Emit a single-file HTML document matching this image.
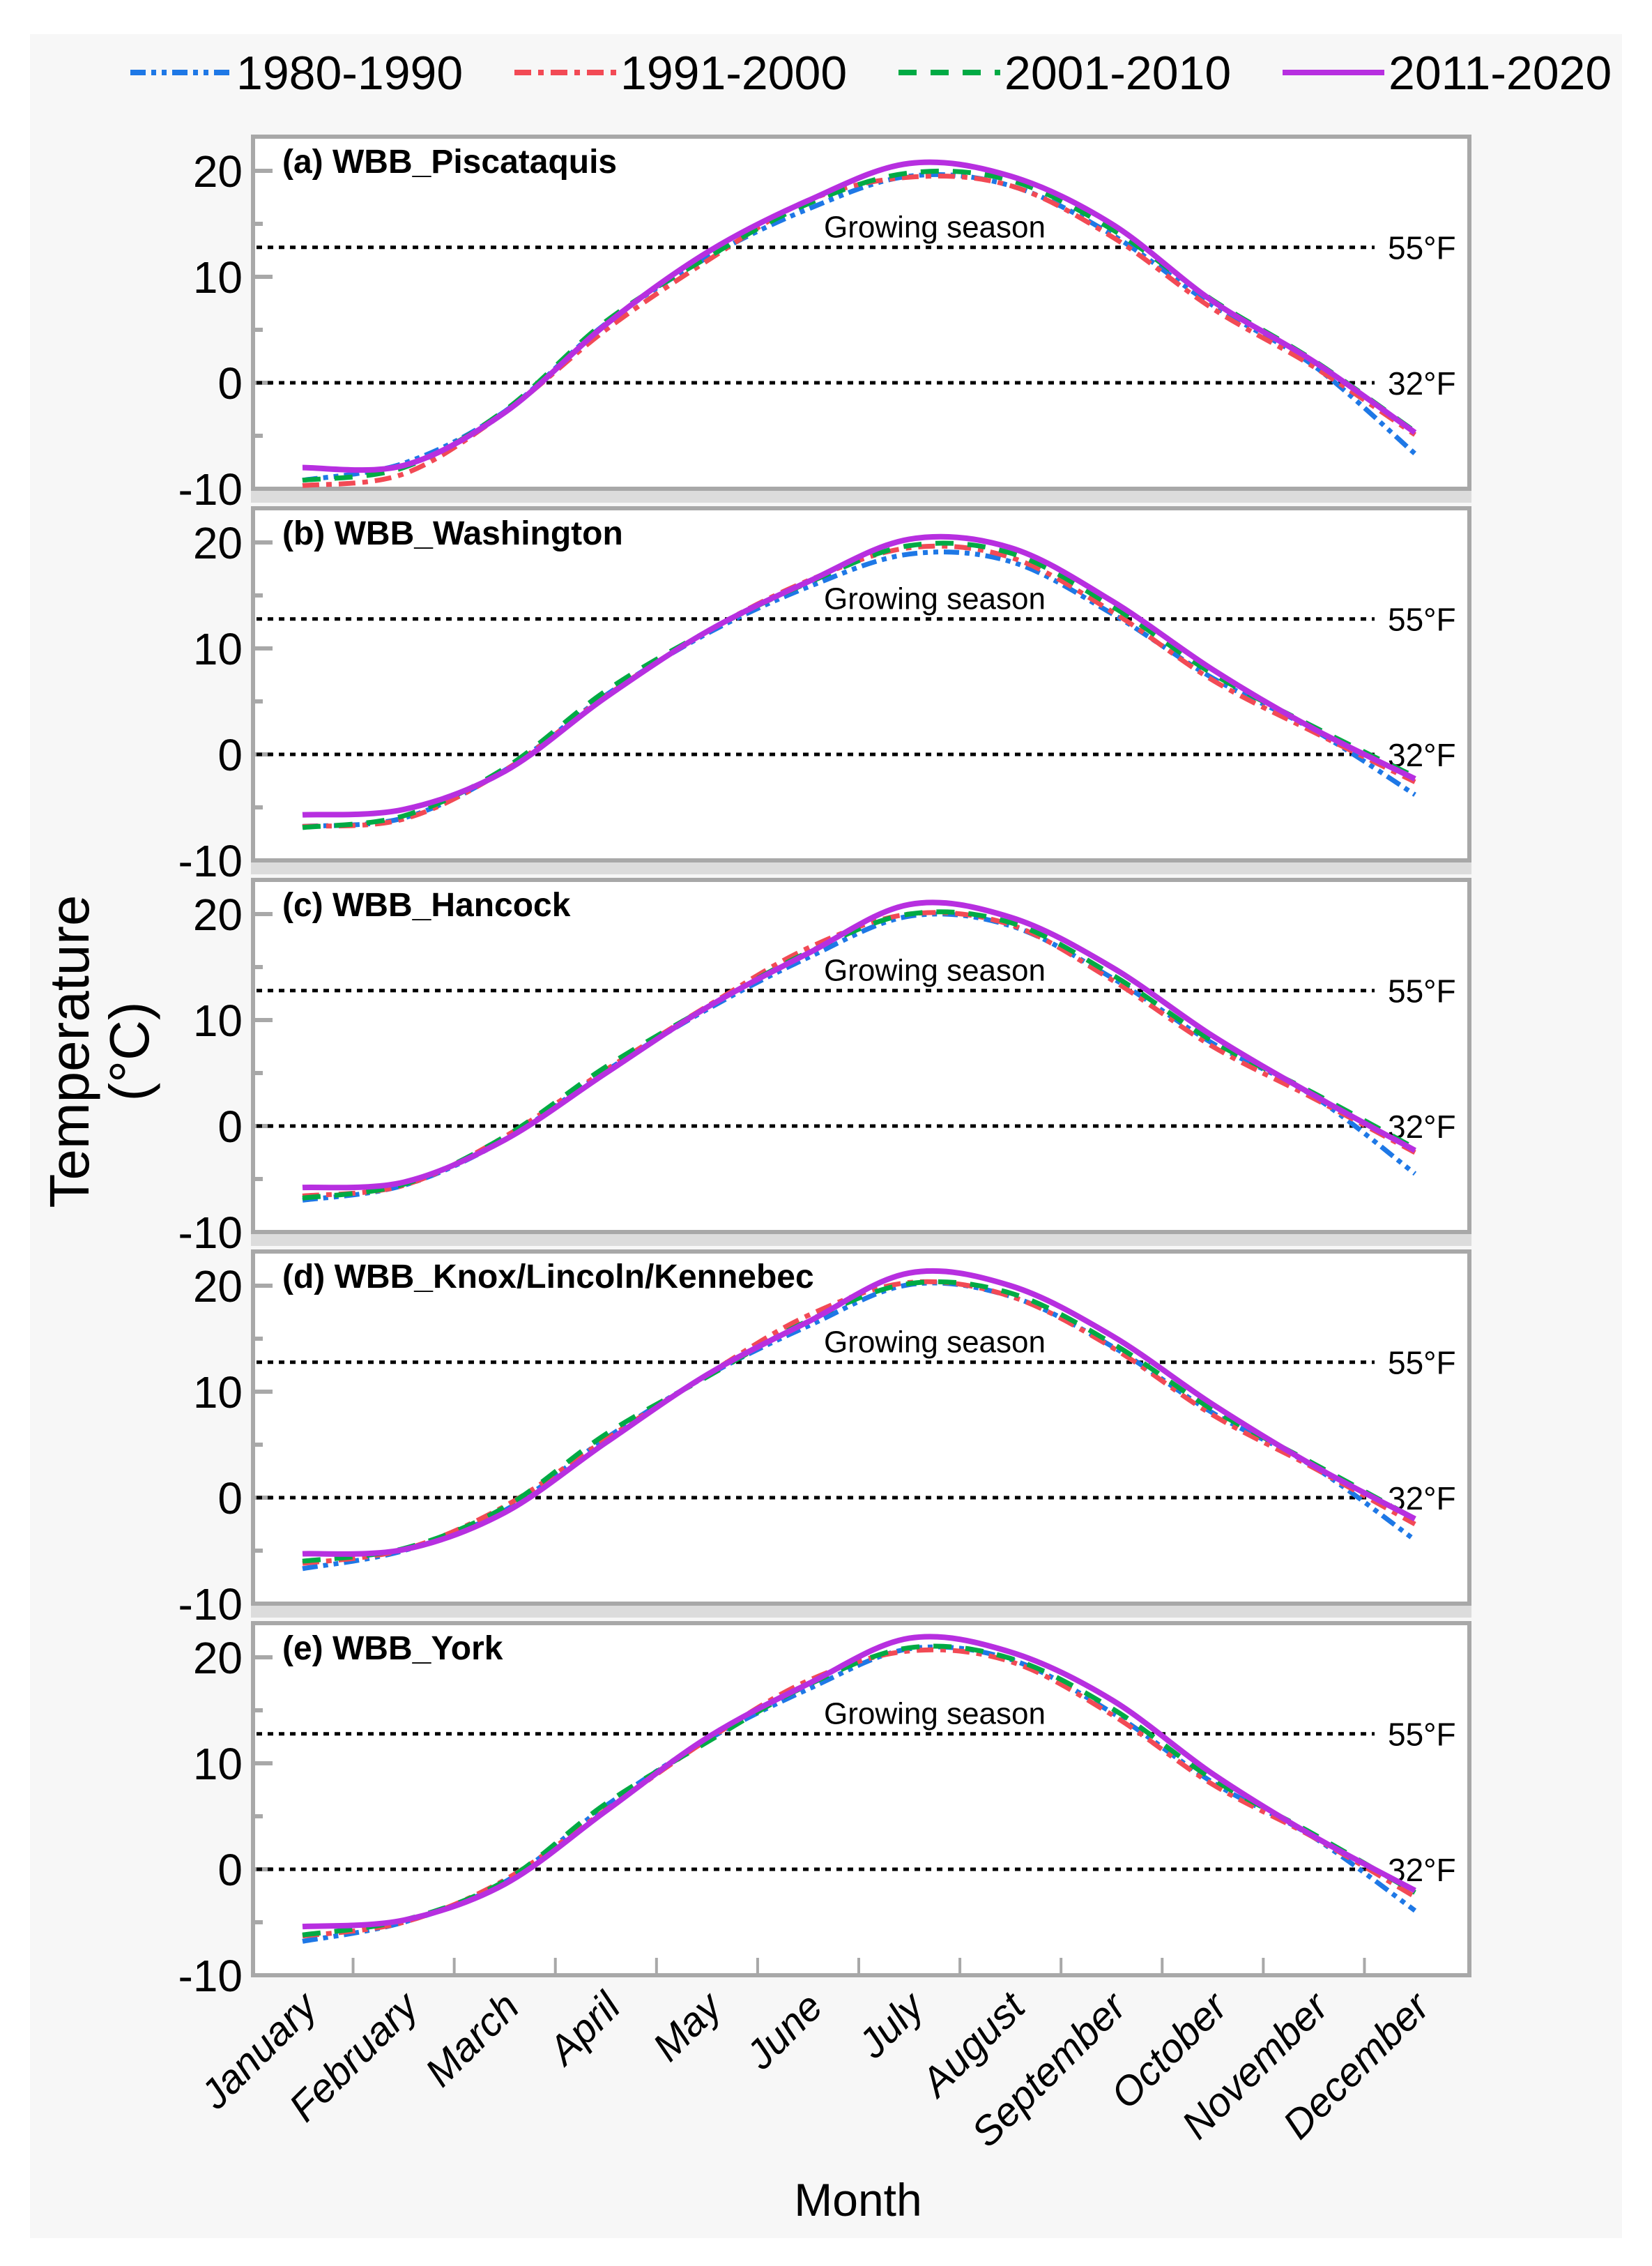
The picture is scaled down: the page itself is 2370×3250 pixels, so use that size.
<!DOCTYPE html>
<html><head><meta charset="utf-8"><style>
html,body{margin:0;padding:0;background:#fff;}
svg{display:block;font-family:"Liberation Sans",Arial,sans-serif;}
</style></head><body>
<svg id="chart" width="2370" height="3250" viewBox="0 0 2370 3250" xmlns="http://www.w3.org/2000/svg">
<rect x="43" y="49" width="2284" height="3161" fill="#f7f7f7"/>
<g id="legend"></g>
<g id="panels"></g>
<g id="xlabels"></g>
<text x="135" y="1508" font-size="80" text-anchor="middle" transform="rotate(-90 135 1508)"><tspan x="135" dy="-8">Temperature</tspan><tspan x="135" dy="86">(°C)</tspan></text>
<text x="1231" y="3178" font-size="66" text-anchor="middle">Month</text>
</svg>
<script>
const months = ["January","February","March","April","May","June","July","August","September","October","November","December"];
const seriesNames = ["1980-1990","1991-2000","2001-2010","2011-2020"];
const panelTitles = ["(a) WBB_Piscataquis","(b) WBB_Washington","(c) WBB_Hancock","(d) WBB_Knox/Lincoln/Kennebec","(e) WBB_York"];
const yTicks = [-10,0,10,20];
const yMinorTicks = [-5,5,15];
const refLines = [12.78,0];
const refLabels = ["55°F","32°F"];
// panel a
const a1980 = [-9.2,-7.6,-2.7,5.6,11.8,16.4,19.5,18.6,14.0,7.3,1.6,-6.7];
const a1991 = [-9.7,-8.6,-2.8,5.0,11.5,17.2,19.4,18.6,13.8,7.0,1.5,-4.9];
const a2001 = [-9.2,-8.0,-2.6,5.8,11.8,16.9,19.8,19.1,14.5,7.8,2.1,-4.6];
const a2011 = [-8.0,-7.8,-2.8,5.5,12.3,17.2,20.7,19.5,15.0,7.7,2.0,-4.7];
// panel b
const b1980 = [-6.8,-6.0,-1.5,5.6,11.4,15.8,18.9,18.2,13.3,7.2,2.3,-3.8];
const b1991 = [-6.8,-6.1,-1.5,5.5,11.6,16.4,19.5,18.6,13.5,7.0,2.1,-2.6];
const b2001 = [-6.9,-5.8,-1.3,6.0,11.6,16.2,19.7,19.0,14.0,7.6,2.6,-2.1];
const b2011 = [-5.7,-5.2,-1.6,5.4,11.6,16.3,20.3,19.5,14.5,8.0,2.4,-2.3];
// panel c
const c1980 = [-7.0,-5.6,-1.3,5.2,11.0,15.9,19.8,18.9,14.0,7.8,2.8,-4.5];
const c1991 = [-6.6,-5.6,-1.0,5.3,11.3,16.8,20.0,19.0,13.8,7.5,2.6,-2.5];
const c2001 = [-6.8,-5.5,-1.0,5.6,11.2,16.4,20.0,19.2,14.3,8.0,3.1,-2.1];
const c2011 = [-5.8,-5.3,-1.3,5.0,11.2,16.3,20.9,19.7,15.0,8.5,2.9,-2.3];
// panel d
const d1980 = [-6.7,-5.0,-1.2,5.6,11.5,16.2,20.1,19.0,14.3,8.0,2.9,-4.0];
const d1991 = [-6.2,-4.9,-0.8,5.5,11.6,17.2,20.3,19.0,14.2,7.8,2.8,-2.5];
const d2001 = [-6.0,-4.8,-0.9,6.0,11.4,16.7,20.2,19.3,14.6,8.3,3.2,-2.0];
const d2011 = [-5.3,-4.9,-1.4,5.2,11.6,16.6,21.2,20.0,15.3,8.8,3.0,-2.0];
// panel e
const e1980 = [-6.8,-5.0,-1.2,6.0,12.2,17.0,20.8,19.8,14.8,8.2,3.0,-3.9];
const e1991 = [-6.3,-5.0,-1.0,5.6,12.2,17.8,20.6,19.6,14.6,8.0,3.0,-2.6];
const e2001 = [-6.2,-4.8,-1.1,6.2,12.0,17.4,20.9,19.9,15.2,8.5,3.3,-2.2];
const e2011 = [-5.4,-4.8,-1.4,5.5,12.4,17.5,21.8,20.5,16.0,9.0,3.1,-2.0];
const panelData = [[a1980,a1991,a2001,a2011],[b1980,b1991,b2001,b2011],[c1980,c1991,c2001,c2011],[d1980,d1991,d2001,d2011],[e1980,e1991,e2001,e2011]];

const NS="http://www.w3.org/2000/svg";
function mk(tag,attrs,parent){const e=document.createElementNS(NS,tag);for(const k in attrs)e.setAttribute(k,attrs[k]);parent.appendChild(e);return e;}
const colors=["#1e78e6","#f24a55","#00aa44","#b72fe0"];
const dashes=["22,8,7,8,7,8","24,10,8,10","26,20","none"];
const X0=434, X1=2030, frameL=363, frameR=2108;
function xs(i){return X0+(X1-X0)*i/(months.length-1);}
const panelTops=[196,729,1262,1795,2328];
const panelH=505;
function makeY(top){const y20=top+49, ym10=top+panelH;return v=>ym10-(v+10)*(ym10-y20)/30;}
function pathD(pts){let d="M"+pts[0][0]+","+pts[0][1];for(let i=0;i<pts.length-1;i++){const p0=pts[i-1]||pts[i],p1=pts[i],p2=pts[i+1],p3=pts[i+2]||p2;const c1x=p1[0]+(p2[0]-p0[0])/6,c1y=p1[1]+(p2[1]-p0[1])/6,c2x=p2[0]-(p3[0]-p1[0])/6,c2y=p2[1]-(p3[1]-p1[1])/6;d+=" C"+c1x.toFixed(1)+","+c1y.toFixed(1)+" "+c2x.toFixed(1)+","+c2y.toFixed(1)+" "+p2[0].toFixed(1)+","+p2[1].toFixed(1);}return d;}

const lg=document.getElementById("legend");
const legX=[187,738,1289,1840];
seriesNames.forEach((n,i)=>{
 const ln=mk("line",{x1:legX[i],y1:104,x2:legX[i]+146,y2:104,stroke:colors[i],"stroke-width":8,"stroke-dasharray":dashes[i]},lg);
 
 
 const t=mk("text",{x:legX[i]+152,y:128,"font-size":68},lg);t.textContent=n;
 
 
});

const pg=document.getElementById("panels");
panelData.forEach((ser,p)=>{
 const top=panelTops[p], y=makeY(top);
 const g=mk("g",{},pg);
 
 
 if(p<4){const band=mk("rect",{x:frameL-3,y:top+panelH+3,width:frameR-frameL+6,height:17,fill:"#dcdcdc"},g);
  
  }
 const fr=mk("rect",{x:frameL,y:top,width:frameR-frameL,height:panelH,fill:"#fff",stroke:"#a8a8a8","stroke-width":6},g);
 
 
 yTicks.forEach(v=>{
  const tk=mk("line",{x1:frameL,x2:frameL+28,y1:y(v),y2:y(v),stroke:"#a8a8a8","stroke-width":6},g);
  
  
  const t=mk("text",{x:348,y:y(v)+23,"font-size":64,"text-anchor":"end"},g);t.textContent=v;
  
  
 });
 yMinorTicks.forEach(v=>{
  const tk=mk("line",{x1:frameL,x2:frameL+14,y1:y(v),y2:y(v),stroke:"#a8a8a8","stroke-width":6},g);
  
  
 });
 if(p===4){for(let i=0;i<months.length-1;i++){const xx=(xs(i)+xs(i+1))/2;
  const tk=mk("line",{x1:xx,x2:xx,y1:top+panelH,y2:top+panelH-25,stroke:"#a8a8a8","stroke-width":4},g);
  
  }}
 refLines.forEach((v,i)=>{
  const l=mk("line",{x1:frameL+5,x2:1972,y1:y(v),y2:y(v),stroke:"#000","stroke-width":5,"stroke-dasharray":"8,8"},g);
  
  
  const t=mk("text",{x:1991,y:y(v)+17,"font-size":46},g);t.textContent=refLabels[i];
  
  
 });
 const gs=mk("text",{x:1341,y:y(12.78)-14,"font-size":44,"text-anchor":"middle"},g);gs.textContent="Growing season";
 
 
 const ti=mk("text",{x:405,y:top+52,"font-size":48,"font-weight":"bold"},g);ti.textContent=panelTitles[p];
 
 
 ser.forEach((vals,s)=>{
  const pts=vals.map((v,i)=>[xs(i),y(v)]);
  const path=mk("path",{d:pathD(pts),fill:"none",stroke:colors[s],"stroke-width":s===3?8:7,"stroke-dasharray":dashes[s],"stroke-linejoin":"round"},g);
  
  
 });
});

const xl=document.getElementById("xlabels");
months.forEach((m,i)=>{
 const x=xs(i)+24, yy=2882;
 const t=mk("text",{x:x,y:yy,"font-size":58,"font-style":"italic","text-anchor":"end",transform:"rotate(-45 "+x+" "+yy+")"},xl);
 t.textContent=m;
 
 
});
</script>
</body></html>
